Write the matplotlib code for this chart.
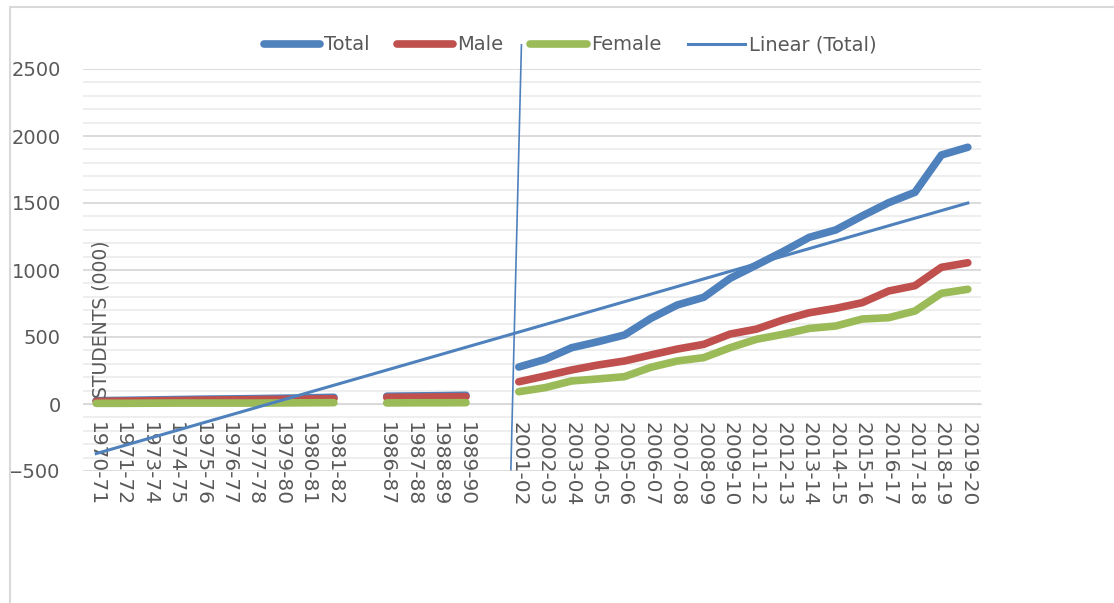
import numpy as np
import matplotlib
matplotlib.use('Agg')
import matplotlib.pyplot as plt
from matplotlib.ticker import MultipleLocator
from matplotlib.patches import Rectangle

# category labels (blank entries are the gaps in the series)
years = ['1970-71', '1971-72', '1973-74', '1974-75', '1975-76', '1976-77',
         '1977-78', '1979-80', '1980-81', '1981-82', '',
         '1986-87', '1987-88', '1988-89', '1989-90', '',
         '2001-02', '2002-03', '2003-04', '2004-05', '2005-06', '2006-07',
         '2007-08', '2008-09', '2009-10', '2011-12', '2012-13', '2013-14',
         '2014-15', '2015-16', '2016-17', '2017-18', '2018-19', '2019-20']

total = [25, 27, 30, 33, 36, 38, 40, 43, 46, 50, None,
         58, 60, 62, 65, None,
         276, 333, 420, 465, 515, 639, 739, 796, 938, 1037, 1137, 1244,
         1299, 1403, 1502, 1580, 1858, 1916]
male = [20, 22, 24, 26, 29, 31, 33, 35, 37, 40, None,
        50, 51, 53, 55, None,
        166, 209, 254, 291, 321, 366, 410, 445, 522, 559, 627, 681,
        714, 756, 843, 883, 1020, 1054]
female = [5, 5, 6, 7, 7, 7, 7, 8, 9, 10, None,
          8, 9, 9, 10, None,
          92, 122, 172, 187, 204, 274, 321, 346, 420, 483, 520, 564,
          582, 634, 644, 694, 826, 856]

# Linear (Total) trendline: end points, plus the stray vertical segment
trend_x = [0, 33]
trend_y = [-370, 1500]
spike_x = [15.7, 16.1]
spike_y = [-490, 2680]

x = np.arange(len(years))
total = np.array(total, dtype=float)
male = np.array(male, dtype=float)
female = np.array(female, dtype=float)

plt.rcParams['font.family'] = ['DejaVu Sans']

fig = plt.figure(figsize=(11.14, 6.03), dpi=100)
ax = fig.add_axes([83 / 1114, 1 - 471 / 603, (981 - 83) / 1114, (471 - 69) / 603])

# outer chart border
fig.patches.append(Rectangle((10 / 1114, -0.1), 1.2, 1 - 7 / 603 + 0.1,
                             transform=fig.transFigure, fill=False,
                             edgecolor='#d9d9d9', linewidth=1.5))

l1, = ax.plot(x, total, color='#4f81bd', lw=5.5, solid_capstyle='round', label='Total')
l2, = ax.plot(x, male, color='#c0504d', lw=5.5, solid_capstyle='round', label='Male')
l3, = ax.plot(x, female, color='#9bbb59', lw=5.5, solid_capstyle='round', label='Female')
l4, = ax.plot(trend_x, trend_y, color='#4f81bd', lw=2.2, label='Linear (Total)')
ax.plot(spike_x, spike_y, color='#4f81bd', lw=1.2, clip_on=False)

ax.set_xlim(-0.5, len(years) - 0.5)
ax.set_ylim(-500, 2500)
ax.yaxis.set_major_locator(MultipleLocator(500))
ax.yaxis.set_minor_locator(MultipleLocator(100))
ax.grid(which='major', axis='y', color='#d9d9d9', lw=1.3)
ax.grid(which='minor', axis='y', color='#ededed', lw=1.3)
# gridlines behind everything, category labels drawn over them
ax.yaxis.set_zorder(0.5)
ax.xaxis.set_zorder(1)

for s in ['top', 'right', 'left']:
    ax.spines[s].set_visible(False)
ax.spines['bottom'].set_position(('data', 0))
ax.spines['bottom'].set_color('#d9d9d9')
ax.spines['bottom'].set_zorder(0.6)

ax.set_xticks(x)
ax.set_xticklabels(years, rotation=-90, ha='center', va='top')
ax.tick_params(axis='x', length=0, pad=13, labelsize=14.5, labelcolor='#595959')
ax.tick_params(axis='y', which='both', length=0, pad=16, labelsize=14, labelcolor='#595959')

fig.text(101 / 1114, 1 - 398 / 603, 'STUDENTS (000)', rotation=90, ha='center',
         va='bottom', fontsize=13.5, color='#595959')

fig.legend(handles=[l1, l2, l3, l4], loc='center', bbox_to_anchor=(570 / 1114, 1 - 45 / 603),
           ncol=4, frameon=False, fontsize=14, handlelength=2.9, handletextpad=0.2,
           columnspacing=1.4, labelcolor='#595959')

fig.savefig('out.png', dpi=100)
